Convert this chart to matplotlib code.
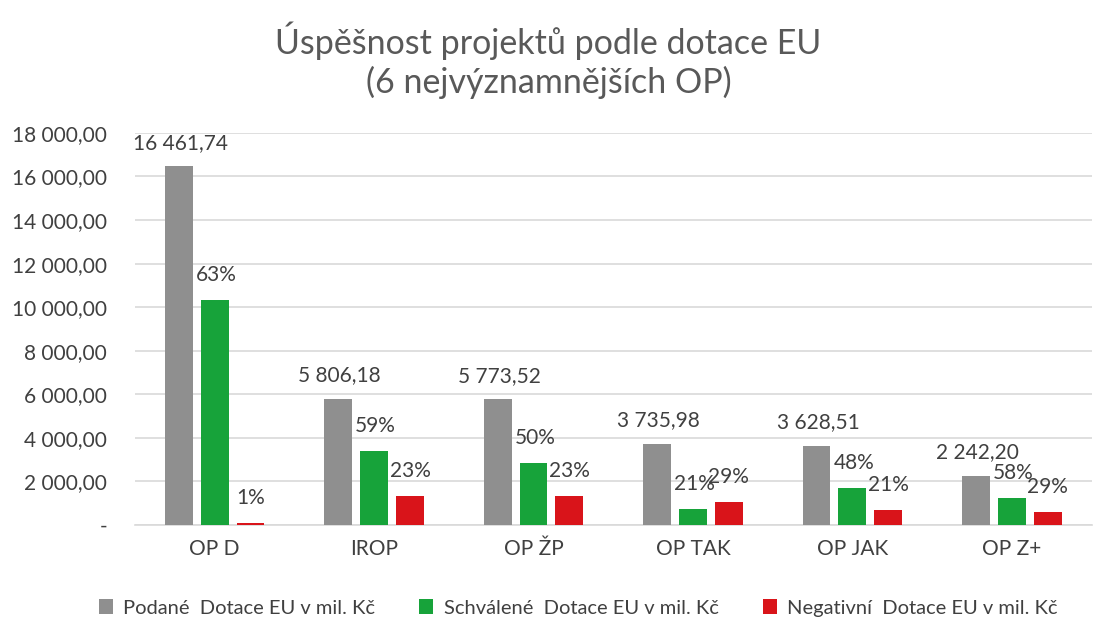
import matplotlib
matplotlib.use("Agg")
import matplotlib.pyplot as plt
import numpy as np

categories = ["OP D", "IROP", "OP ŽP", "OP TAK", "OP JAK", "OP Z+"]
podane = [16461.74, 5806.18, 5773.52, 3735.98, 3628.51, 2242.20]
schvalene = [10330, 3410, 2860, 740, 1710, 1250]
negativni = [110, 1340, 1320, 1040, 700, 610]
pct_schvalene = ["63%", "59%", "50%", "21%", "48%", "58%"]
pct_negativni = ["1%", "23%", "23%", "29%", "21%", "29%"]
series_names = ["Podané  Dotace EU v mil. Kč", "Schválené  Dotace EU v mil. Kč", "Negativní  Dotace EU v mil. Kč"]
yticks = list(range(0, 18001, 2000))

plt.rcParams['font.family'] = ['Lato', 'DejaVu Sans']
txt = "#404040"

fig = plt.figure(figsize=(10.97, 6.21), dpi=100)
ax = fig.add_axes([0.123, 0.1546, 0.872, 0.6314])

x = np.arange(len(categories))
w = 0.175
gap = 0.05
colors = ["#8f8f8f", "#17a33a", "#d9141a"]
b1 = ax.bar(x - (w + gap), podane, w, color=colors[0], label=series_names[0], zorder=3)
b2 = ax.bar(x, schvalene, w, color=colors[1], label=series_names[1], zorder=3)
b3 = ax.bar(x + (w + gap), negativni, w, color=colors[2], label=series_names[2], zorder=3)

def fmt(v):
    s = f"{v:,.2f}"
    return s.replace(",", " ").replace(".", ",")

for xi, v in zip(x - (w + gap), podane):
    ax.annotate(fmt(v), (xi, v), xytext=(1, 17), textcoords="offset points",
                ha="center", va="center", fontsize=15, color=txt, zorder=4)
for xi, v, p in zip(x, schvalene, pct_schvalene):
    ax.annotate(p, (xi, v), xytext=(1, 18), textcoords="offset points",
                ha="center", va="center", fontsize=15, color=txt, zorder=4)
for xi, v, p in zip(x + (w + gap), negativni, pct_negativni):
    ax.annotate(p, (xi, v), xytext=(0, 18), textcoords="offset points",
                ha="center", va="center", fontsize=15, color=txt, zorder=4)

ax.set_ylim(0, 18000)
ax.set_xlim(-0.5, len(categories) - 0.5)
ax.set_yticks(yticks)
ax.set_yticklabels(["-" if t == 0 else fmt(t) for t in yticks], fontsize=15, color=txt)
ax.set_xticks(x)
ax.set_xticklabels(categories, fontsize=15, color=txt)
ax.tick_params(axis="both", length=0, pad=10)
ax.tick_params(axis="y", pad=20)
ax.grid(axis="y", color="#d9d9d9", linewidth=1.2, zorder=0)
for s in ["top", "right", "left"]:
    ax.spines[s].set_visible(False)
ax.spines["bottom"].set_color("#d9d9d9")
ax.spines["bottom"].set_linewidth(1.2)

fig.suptitle("Úspěšnost projektů podle dotace EU\n(6 nejvýznamnějších OP)",
             fontsize=24.5, color="#595959", y=0.965, linespacing=1.2)

leg = fig.legend(handles=[b1, b2, b3], loc="lower center", bbox_to_anchor=(0.527, -0.022),
                 ncol=3, frameon=False, fontsize=14.5, handlelength=0.7, handleheight=0.7,
                 columnspacing=2.2, handletextpad=0.5)
for t in leg.get_texts():
    t.set_color(txt)

fig.savefig("out.png", dpi=100)
